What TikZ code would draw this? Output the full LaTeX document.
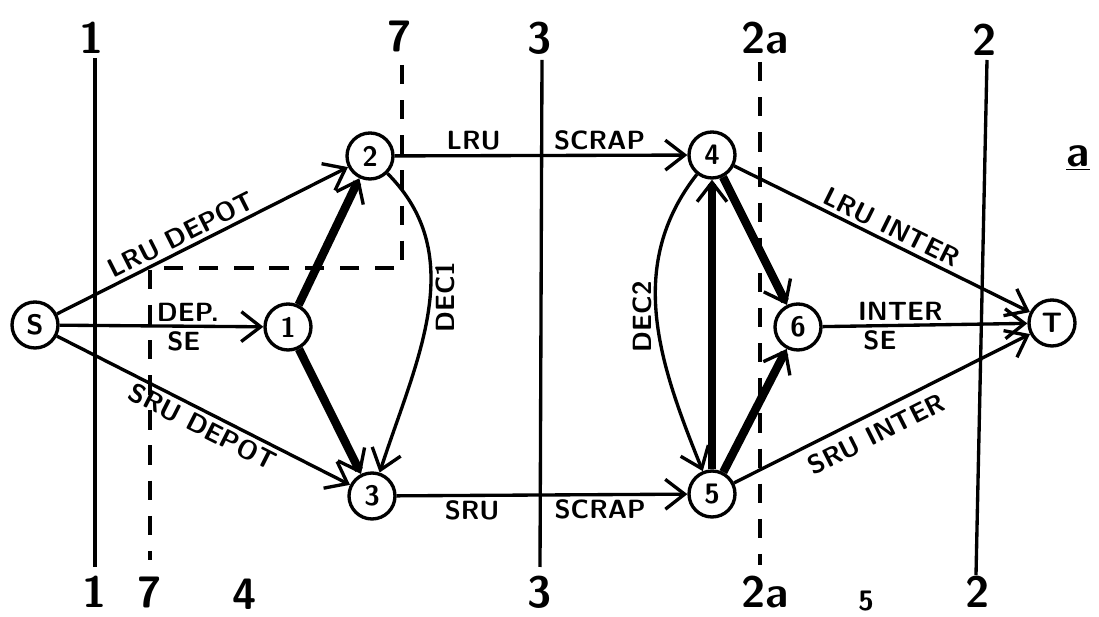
\documentclass[tikz,border=0pt]{standalone}
\usetikzlibrary{arrows.meta, positioning, calc}

\tikzset{
  vertex/.style={circle, draw, line width=1.9pt, minimum size=0.92cm, inner sep=0pt, font=\sffamily\bfseries\fontsize{16}{18}\selectfont},
  flow/.style={line width=1.9pt, -{Straight Barb[length=11pt, width=17pt, line width=1.9pt]}},
  heavy/.style={flow, line width=4.8pt},
  cutline/.style={line width=1.9pt},
  cutdash/.style={cutline, dash pattern=on 11pt off 9pt},
  cutlabel/.style={font=\sffamily\bfseries\fontsize{25}{27}\selectfont, inner sep=0pt},
  arclabel/.style={font=\sffamily\bfseries\fontsize{15}{17}\selectfont, inner sep=2pt},
}

\begin{document}
\begin{tikzpicture}[x=0.02cm, y=-0.02cm]
  \useasboundingbox (0,0) rectangle (1099,617);

  % cuts
  \coordinate (oneT) at (95,58);
  \coordinate (oneB) at (95,567);
  \coordinate (sevenT) at (402,65);
  \coordinate (sevenR) at (402,268);
  \coordinate (sevenL) at (150,268);
  \coordinate (sevenB) at (150,560);
  \coordinate (threeT) at (542,60);
  \coordinate (threeB) at (540,567);
  \coordinate (twoaT) at (760,62);
  \coordinate (twoaB) at (760,565);
  \coordinate (twoT) at (987,60);
  \coordinate (twoB) at (976,575);
  \draw[cutline] (oneT) -- (oneB);
  \draw[cutdash] (sevenT) -- (sevenR) -- (sevenL) -- (sevenB);
  \draw[cutline] (threeT) -- (threeB);
  \draw[cutdash] (twoaT) -- (twoaB);
  \draw[cutline] (twoT) -- (twoB);

  \node[cutlabel] (oneTl) at (92,38) {1};
  \node[cutlabel] (sevenTl) at (400,36) {7};
  \node[cutlabel] (threeTl) at (540,38) {3};
  \node[cutlabel] (twoaTl) at (765,38) {2a};
  \node[cutlabel] (twoTl) at (985,40) {2};
  \node[cutlabel] (oneBl) at (95,592) {1};
  \node[cutlabel] (sevenBl) at (150,592) {7};
  \node[cutlabel] (fourBl) at (245,594) {4};
  \node[cutlabel] (threeBl) at (540,592) {3};
  \node[cutlabel] (twoaBl) at (765,592) {2a};
  \node[cutlabel, font=\sffamily\bfseries\fontsize{16}{18}\selectfont] (fiveBl) at (866,601) {5};
  \node[cutlabel] (twoBl) at (978,592) {2};
  \node[cutlabel] (partA) at (1078,158) {\underline{a}};

  % network
  \node[vertex] (src) at (35,325) {S};
  \node[vertex] (n1) at (288,327) {1};
  \node[vertex] (n2) at (370,156) {2};
  \node[vertex] (n3) at (372,496) {3};
  \node[vertex] (n4) at (712,155) {4};
  \node[vertex] (n5) at (712,494) {5};
  \node[vertex] (n6) at (798,327) {6};
  \node[vertex] (sink) at (1052,323) {T};

  \draw[flow] (src) -- node[arclabel, sloped, above, pos=0.45] (lruDepot) {LRU DEPOT} (n2);
  \draw[flow] (src) -- node[arclabel, above, pos=0.63] (depOne) {DEP.} node[arclabel, below, pos=0.61] (seOne) {SE} (n1);
  \draw[flow] (src) -- node[arclabel, sloped, below, pos=0.52] (sruDepot) {SRU DEPOT} (n3);
  \draw[heavy] (n1) -- (n2);
  \draw[heavy] (n1) -- (n3);
  \draw[flow] (n2) to[out=-45, in=72] node[arclabel, rotate=90, anchor=north, pos=0.45] (decOne) {DEC1} (n3);
  \draw[flow] (n2) -- node[arclabel, above, pos=0.27] (lruTop) {LRU} node[arclabel, above, pos=0.7] (scrapTop) {SCRAP} (n4);
  \draw[flow] (n3) -- node[arclabel, below, pos=0.26] (sruBot) {SRU} node[arclabel, below, pos=0.7] (scrapBot) {SCRAP} (n5);
  \draw[flow] (n4) to[out=-128, in=112] node[arclabel, rotate=90, anchor=south, pos=0.5] (decTwo) {DEC2} (n5);
  \draw[heavy] (n5) -- (n4);
  \draw[heavy] (n4) -- (n6);
  \draw[heavy] (n5) -- (n6);
  \draw[flow] (n4) -- node[arclabel, sloped, above, pos=0.51] (lruInter) {LRU INTER} (sink);
  \draw[flow] (n6) -- node[arclabel, above, pos=0.38] (interSix) {INTER} node[arclabel, below, pos=0.28] (seSix) {SE} (sink);
  \draw[flow] (n5) -- node[arclabel, sloped, below=3pt, pos=0.45] (sruInter) {SRU INTER} (sink);
\end{tikzpicture}
\end{document}
